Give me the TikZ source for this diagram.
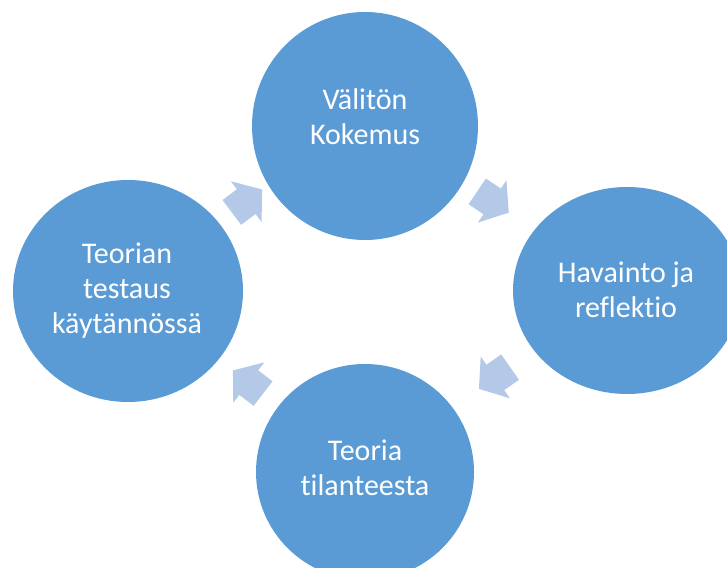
\documentclass[tikz,border=0pt]{standalone}
\usepackage{fontspec}
\setmainfont{Carlito}[Ligatures={NoCommon}]
\usetikzlibrary{shapes.geometric}
\definecolor{circblue}{HTML}{5B9BD5}
\definecolor{arrowblue}{HTML}{B4C8E8}
\tikzset{
  stage/.style={ellipse, fill=circblue, draw=none, inner sep=0pt},
  stagetext/.style={inner sep=0pt, text=white, align=center,
    font=\fontsize{30}{35}\selectfont},
  cyclearrow/.pic={
    \fill[arrowblue] (-19,-15.5) -- (-1,-15.5) -- (-1,-25.5) -- (19,0)
      -- (-1,25.5) -- (-1,15.5) -- (-19,15.5) -- cycle;
  }
}
\begin{document}
\begin{tikzpicture}[x=1pt,y=1pt]
\useasboundingbox (0,0) rectangle (727,567);
\clip (0,0) rectangle (727,567);
\fill[white] (0,0) rectangle (727,567);
\node[stage, minimum width=226pt, minimum height=228pt] (top) at (365,441) {};
\node[stage, minimum width=228pt, minimum height=207pt] (right) at (627,276.5) {};
\node[stage, minimum width=218pt, minimum height=216pt] (bottom) at (365,95) {};
\node[stage, minimum width=230pt, minimum height=222pt] (left) at (128,276) {};
\node[stagetext] (toptext) at (365,450) {Välitön\\Kokemus};
\node[stagetext] (righttext) at (626,277) {Havainto ja\\reflektio};
\node[stagetext] (bottomtext) at (365,99) {Teoria\\tilanteesta};
\node[stagetext] (lefttext) at (127,276) {Teorian\\testaus\\käytännössä};
\pic[rotate=37] (a1) at (247,366) {cyclearrow};
\pic[rotate=-34] (a2) at (493,365) {cyclearrow};
\pic[rotate=215] (a3) at (494.5,189) {cyclearrow};
\pic[rotate=142.5] (a4) at (248,185) {cyclearrow};
\end{tikzpicture}
\end{document}
